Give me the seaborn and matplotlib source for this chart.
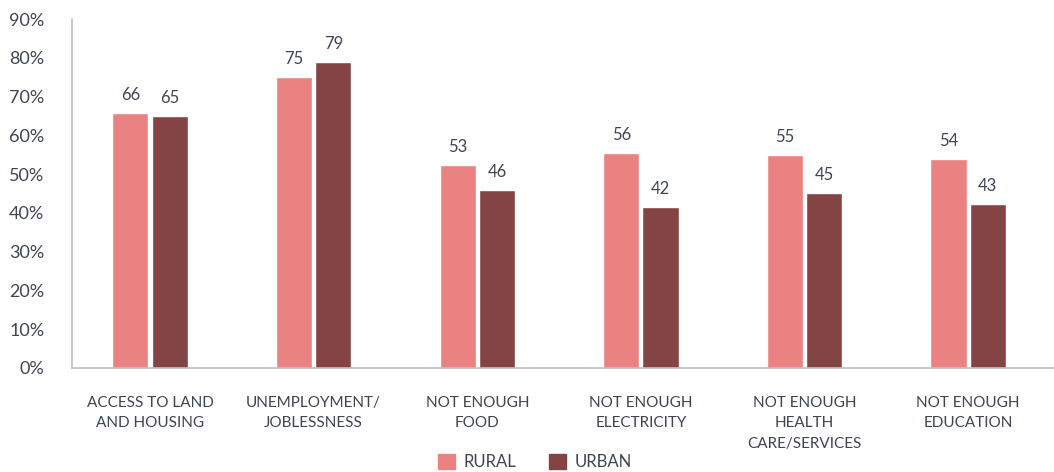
import matplotlib
matplotlib.use("Agg")
import matplotlib.pyplot as plt
import seaborn as sns
import pandas as pd
from matplotlib.ticker import FuncFormatter
from matplotlib.patches import Patch

categories = ["ACCESS TO LAND\nAND HOUSING", "UNEMPLOYMENT/\nJOBLESSNESS", "NOT ENOUGH\nFOOD",
              "NOT ENOUGH\nELECTRICITY", "NOT ENOUGH\nHEALTH\nCARE/SERVICES", "NOT ENOUGH\nEDUCATION"]
rural = [65.8, 75.0, 52.4, 55.4, 54.9, 53.9]
urban = [65.0, 78.9, 45.9, 41.6, 45.1, 42.4]
rural_labels = ["66", "75", "53", "56", "55", "54"]
urban_labels = ["65", "79", "46", "42", "45", "43"]
series = ["RURAL", "URBAN"]
colors = ["#E98280", "#844444"]
yticks = [0, 10, 20, 30, 40, 50, 60, 70, 80, 90]

df = pd.DataFrame({
    "cat": categories * 2,
    "val": rural + urban,
    "series": [series[0]] * len(categories) + [series[1]] * len(categories),
})

sns.set_style("white")
plt.rcParams["font.family"] = ["Lato", "DejaVu Sans"]
txt = "#404553"

fig = plt.figure(figsize=(10.54, 4.72), dpi=100)
ax = fig.add_axes([72 / 1054, 104 / 472, 1 - 72 / 1054, (368 - 19) / 472])
sns.barplot(data=df, x="cat", y="val", hue="series", palette=colors, width=0.48, gap=0.08,
            ax=ax, legend=False, saturation=1)

for container, labs in zip(ax.containers, [rural_labels, urban_labels]):
    ax.bar_label(container, labels=labs, padding=7, fontsize=12, color=txt)

ax.set_ylim(0, 90)
ax.set_xlim(-0.477, 5.525)
ax.set_yticks(yticks)
ax.yaxis.set_major_formatter(FuncFormatter(lambda v, p: f"{v:.0f}%"))
ax.set_xlabel("")
ax.set_ylabel("")
ax.tick_params(axis="y", labelsize=13, colors=txt, length=0, pad=20)
ax.tick_params(axis="x", labelsize=11, colors=txt, length=0, pad=20)
for lab in ax.get_xticklabels():
    lab.set_linespacing(1.6)
for s in ["top", "right"]:
    ax.spines[s].set_visible(False)
for s in ["left", "bottom"]:
    ax.spines[s].set_color("#BFBFBF")
    ax.spines[s].set_linewidth(1.2)

handles = [Patch(color=c, label=l) for c, l in zip(colors, series)]
fig.legend(handles=handles, loc="center", bbox_to_anchor=(535 / 1054, 1 - 462 / 472), ncol=2,
           frameon=False, fontsize=12, labelcolor=txt, handlelength=1.0, handleheight=1.0,
           columnspacing=2.0, handletextpad=0.5)

fig.savefig("out.png", dpi=100)
